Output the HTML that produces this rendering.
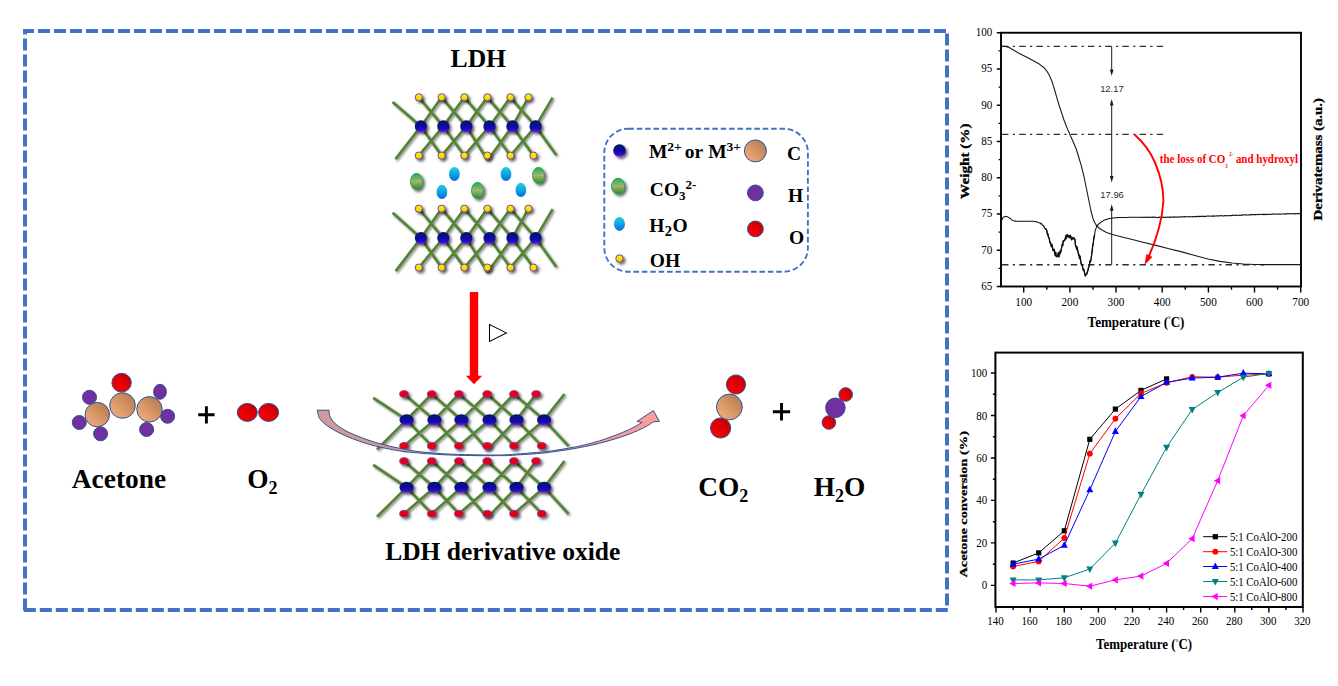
<!DOCTYPE html>
<html><head><meta charset="utf-8"><title>LDH graphical abstract</title>
<style>html,body{margin:0;padding:0;background:#fff;}body{width:1338px;height:686px;overflow:hidden;}svg{display:block;}text{font-family:"Liberation Serif",serif;}.b{font-weight:bold;}.sans{font-family:"Liberation Sans",sans-serif;}</style></head><body>
<svg width="1338" height="686" viewBox="0 0 1338 686">
<defs>
<filter id="sh" x="-20%" y="-20%" width="150%" height="150%"><feDropShadow dx="2.0" dy="2.0" stdDeviation="1.6" flood-color="#000" flood-opacity="0.62"/></filter>
<filter id="shl" x="-5%" y="-5%" width="112%" height="112%"><feDropShadow dx="1.3" dy="1.3" stdDeviation="1.1" flood-color="#000" flood-opacity="0.5"/></filter>
<linearGradient id="gBlue" x1="0" y1="0" x2="0" y2="1"><stop offset="0" stop-color="#031466"/><stop offset="0.55" stop-color="#0e0ea2"/><stop offset="0.8" stop-color="#2412c0"/><stop offset="0.92" stop-color="#6a18dc"/><stop offset="1" stop-color="#b020f0"/></linearGradient>
<linearGradient id="gYel" x1="0" y1="0" x2="0" y2="1"><stop offset="0" stop-color="#fff200"/><stop offset="1" stop-color="#e0d800"/></linearGradient>
<linearGradient id="gCy" x1="0" y1="0" x2="0" y2="1"><stop offset="0" stop-color="#22d0dc"/><stop offset="0.5" stop-color="#12a4e4"/><stop offset="1" stop-color="#0868d8"/></linearGradient>
<linearGradient id="gGr" x1="0" y1="0" x2="0" y2="1"><stop offset="0" stop-color="#1eae4e"/><stop offset="0.5" stop-color="#a8b272"/><stop offset="1" stop-color="#2a8a2a"/></linearGradient>
<linearGradient id="gTan" x1="1" y1="0" x2="0" y2="1"><stop offset="0" stop-color="#ab744c"/><stop offset="0.5" stop-color="#d69565"/><stop offset="1" stop-color="#f6b386"/></linearGradient>
<linearGradient id="gRed" x1="1" y1="0" x2="0" y2="1"><stop offset="0" stop-color="#b00000"/><stop offset="0.5" stop-color="#e40008"/><stop offset="1" stop-color="#ff0000"/></linearGradient>
<linearGradient id="gRedE" x1="0" y1="0" x2="0" y2="1"><stop offset="0" stop-color="#f00000"/><stop offset="1" stop-color="#d80010"/></linearGradient>
<linearGradient id="gPink" x1="0" y1="0" x2="1" y2="0"><stop offset="0" stop-color="#cf9a9a"/><stop offset="0.5" stop-color="#e89a9a"/><stop offset="1" stop-color="#ff9c9c"/></linearGradient>
</defs>
<rect x="0" y="0" width="1338" height="686" fill="#fff"/>
<g fill="none" stroke="#4472c4" stroke-width="4" stroke-dasharray="12 4">
<path d="M23 31H949" stroke-dashoffset="1"/>
<path d="M947 31V608" stroke-dashoffset="13.4"/>
<path d="M23 610H949" stroke-dashoffset="15.2"/>
<path d="M25 29V610.4" stroke-dashoffset="6.6"/>
</g>
<path d="M418.8 97.3L443.3 126.4M420.9 126.4L441.6 97.3M418.8 155.6L443.3 126.4M420.9 126.4L441.6 155.6M441.6 97.3L466.3 126.4M443.3 126.4L464.3 97.3M441.6 155.6L466.3 126.4M443.3 126.4L464.3 155.6M464.3 97.3L489.5 126.4M466.3 126.4L487.3 97.3M464.3 155.6L489.5 126.4M466.3 126.4L487.6 160.2M487.3 97.3L512.4 126.4M489.5 126.4L510.4 97.3M487.6 160.2L512.4 126.4M489.5 126.4L510.4 155.6M510.4 97.3L535.6 126.4M512.4 126.4L528.4 97.3M510.4 155.6L535.6 126.4M512.4 126.4L533.4 155.6M392.6 101.9L420.9 126.4M395.5 159.1L420.9 126.4M535.6 126.4L552.6 97.6M535.6 126.4L556.4 155.2" stroke="#548235" stroke-width="2.65" fill="none" filter="url(#shl)"/>
<g filter="url(#sh)">
<ellipse cx="418.8" cy="97.3" rx="3.60" ry="3.60" fill="url(#gYel)" stroke="#7030a0" stroke-width="0.9"/>
<ellipse cx="441.6" cy="97.3" rx="3.60" ry="3.60" fill="url(#gYel)" stroke="#7030a0" stroke-width="0.9"/>
<ellipse cx="464.3" cy="97.3" rx="3.60" ry="3.60" fill="url(#gYel)" stroke="#7030a0" stroke-width="0.9"/>
<ellipse cx="487.3" cy="97.3" rx="3.60" ry="3.60" fill="url(#gYel)" stroke="#7030a0" stroke-width="0.9"/>
<ellipse cx="510.4" cy="97.3" rx="3.60" ry="3.60" fill="url(#gYel)" stroke="#7030a0" stroke-width="0.9"/>
<ellipse cx="528.4" cy="97.3" rx="3.60" ry="3.60" fill="url(#gYel)" stroke="#7030a0" stroke-width="0.9"/>
<ellipse cx="418.8" cy="155.6" rx="3.60" ry="3.60" fill="url(#gYel)" stroke="#7030a0" stroke-width="0.9"/>
<ellipse cx="441.6" cy="155.6" rx="3.60" ry="3.60" fill="url(#gYel)" stroke="#7030a0" stroke-width="0.9"/>
<ellipse cx="464.3" cy="155.6" rx="3.60" ry="3.60" fill="url(#gYel)" stroke="#7030a0" stroke-width="0.9"/>
<ellipse cx="487.3" cy="155.6" rx="3.60" ry="3.60" fill="url(#gYel)" stroke="#7030a0" stroke-width="0.9"/>
<ellipse cx="510.4" cy="155.6" rx="3.60" ry="3.60" fill="url(#gYel)" stroke="#7030a0" stroke-width="0.9"/>
<ellipse cx="533.4" cy="155.6" rx="3.60" ry="3.60" fill="url(#gYel)" stroke="#7030a0" stroke-width="0.9"/>
<ellipse cx="420.9" cy="126.4" rx="6.10" ry="6.10" fill="url(#gBlue)"/>
<ellipse cx="443.3" cy="126.4" rx="6.10" ry="6.10" fill="url(#gBlue)"/>
<ellipse cx="466.3" cy="126.4" rx="6.10" ry="6.10" fill="url(#gBlue)"/>
<ellipse cx="489.5" cy="126.4" rx="6.10" ry="6.10" fill="url(#gBlue)"/>
<ellipse cx="512.4" cy="126.4" rx="6.10" ry="6.10" fill="url(#gBlue)"/>
<ellipse cx="535.6" cy="126.4" rx="6.10" ry="6.10" fill="url(#gBlue)"/>
</g>
<path d="M418.8 208.7L443.3 238.1M420.9 238.1L441.6 208.7M418.8 267.6L443.3 238.1M420.9 238.1L441.6 267.6M441.6 208.7L466.3 238.1M443.3 238.1L464.3 208.7M441.6 267.6L466.3 238.1M443.3 238.1L464.3 267.6M464.3 208.7L489.5 238.1M466.3 238.1L487.3 208.7M464.3 267.6L489.5 238.1M466.3 238.1L487.6 272.2M487.3 208.7L512.4 238.1M489.5 238.1L510.4 208.7M487.6 272.2L512.4 238.1M489.5 238.1L510.4 267.6M510.4 208.7L535.6 238.1M512.4 238.1L528.4 208.7M510.4 267.6L535.6 238.1M512.4 238.1L533.4 267.6M392.6 212.8L420.9 238.1M395.7 271.1L420.9 238.1M535.6 238.1L552.6 209.2M535.6 238.1L556.4 267.0" stroke="#548235" stroke-width="2.65" fill="none" filter="url(#shl)"/>
<g filter="url(#sh)">
<ellipse cx="418.8" cy="208.7" rx="3.60" ry="3.60" fill="url(#gYel)" stroke="#7030a0" stroke-width="0.9"/>
<ellipse cx="441.6" cy="208.7" rx="3.60" ry="3.60" fill="url(#gYel)" stroke="#7030a0" stroke-width="0.9"/>
<ellipse cx="464.3" cy="208.7" rx="3.60" ry="3.60" fill="url(#gYel)" stroke="#7030a0" stroke-width="0.9"/>
<ellipse cx="487.3" cy="208.7" rx="3.60" ry="3.60" fill="url(#gYel)" stroke="#7030a0" stroke-width="0.9"/>
<ellipse cx="510.4" cy="208.7" rx="3.60" ry="3.60" fill="url(#gYel)" stroke="#7030a0" stroke-width="0.9"/>
<ellipse cx="528.4" cy="208.7" rx="3.60" ry="3.60" fill="url(#gYel)" stroke="#7030a0" stroke-width="0.9"/>
<ellipse cx="418.8" cy="267.6" rx="3.60" ry="3.60" fill="url(#gYel)" stroke="#7030a0" stroke-width="0.9"/>
<ellipse cx="441.6" cy="267.6" rx="3.60" ry="3.60" fill="url(#gYel)" stroke="#7030a0" stroke-width="0.9"/>
<ellipse cx="464.3" cy="267.6" rx="3.60" ry="3.60" fill="url(#gYel)" stroke="#7030a0" stroke-width="0.9"/>
<ellipse cx="487.3" cy="267.6" rx="3.60" ry="3.60" fill="url(#gYel)" stroke="#7030a0" stroke-width="0.9"/>
<ellipse cx="510.4" cy="267.6" rx="3.60" ry="3.60" fill="url(#gYel)" stroke="#7030a0" stroke-width="0.9"/>
<ellipse cx="533.4" cy="267.6" rx="3.60" ry="3.60" fill="url(#gYel)" stroke="#7030a0" stroke-width="0.9"/>
<ellipse cx="420.9" cy="238.1" rx="6.10" ry="6.10" fill="url(#gBlue)"/>
<ellipse cx="443.3" cy="238.1" rx="6.10" ry="6.10" fill="url(#gBlue)"/>
<ellipse cx="466.3" cy="238.1" rx="6.10" ry="6.10" fill="url(#gBlue)"/>
<ellipse cx="489.5" cy="238.1" rx="6.10" ry="6.10" fill="url(#gBlue)"/>
<ellipse cx="512.4" cy="238.1" rx="6.10" ry="6.10" fill="url(#gBlue)"/>
<ellipse cx="535.6" cy="238.1" rx="6.10" ry="6.10" fill="url(#gBlue)"/>
</g>
<g filter="url(#sh)">
<ellipse cx="416.5" cy="181.5" rx="6.0" ry="8.1" fill="url(#gGr)" stroke="#12a84c" stroke-width="0.9"/>
<ellipse cx="477.5" cy="190.5" rx="6.0" ry="8.1" fill="url(#gGr)" stroke="#12a84c" stroke-width="0.9"/>
<ellipse cx="538.5" cy="175.5" rx="6.0" ry="8.1" fill="url(#gGr)" stroke="#12a84c" stroke-width="0.9"/>
</g>
<filter id="soft" x="-20%" y="-20%" width="140%" height="140%"><feGaussianBlur stdDeviation="0.35"/></filter>
<ellipse cx="454.4" cy="174.0" rx="5.4" ry="7.1" fill="url(#gCy)" filter="url(#soft)"/>
<ellipse cx="441.9" cy="191.9" rx="5.4" ry="7.1" fill="url(#gCy)" filter="url(#soft)"/>
<ellipse cx="506.0" cy="174.0" rx="5.4" ry="7.1" fill="url(#gCy)" filter="url(#soft)"/>
<ellipse cx="520.9" cy="189.9" rx="5.4" ry="7.1" fill="url(#gCy)" filter="url(#soft)"/>
<text class="b" x="478.3" y="67.1" font-size="25.6" text-anchor="middle">LDH</text>
<rect x="604.3" y="128.7" width="203.6" height="143" rx="24" ry="24" fill="none" stroke="#4472c4" stroke-width="1.9" stroke-dasharray="5.6 2.8"/>
<g filter="url(#sh)">
<circle cx="619.5" cy="150.6" r="6.3" fill="url(#gBlue)"/>
<ellipse cx="618.1" cy="186.2" rx="6.6" ry="7.9" fill="url(#gGr)" stroke="#12a84c" stroke-width="0.9"/>
<circle cx="619.5" cy="258.5" r="3.7" fill="url(#gYel)" stroke="#7030a0" stroke-width="0.9"/>
</g>
<ellipse cx="619.5" cy="223.9" rx="5.5" ry="7.0" fill="url(#gCy)" filter="url(#soft)"/>
<circle cx="755.4" cy="150.9" r="11.0" fill="url(#gTan)" stroke="#2f528f" stroke-width="1"/>
<circle cx="755.4" cy="192.9" r="7.9" fill="#7030a0" stroke="#2f528f" stroke-width="1"/>
<circle cx="755.4" cy="228.9" r="7.9" fill="url(#gRed)" stroke="#2f528f" stroke-width="1"/>
<text class="b" x="648.9" y="157.9" font-size="19.5">M<tspan font-size="13.5" dy="-6.5">2+</tspan><tspan dy="6.5" x="684.8">or</tspan><tspan x="708.2">M</tspan><tspan font-size="13.5" dy="-6.5">3+</tspan></text>
<text class="b" x="649.8" y="195.8" font-size="19.5">CO<tspan font-size="13" dy="4">3</tspan><tspan font-size="13" dy="-10.5">2-</tspan></text>
<text class="b" x="649.2" y="231.8" font-size="19.5">H<tspan font-size="14.5" dy="4" dx="0.4">2</tspan><tspan dy="-4" dx="0.6">O</tspan></text>
<text class="b" x="649.8" y="267.1" font-size="19.5">OH</text>
<text class="b" x="786.9" y="159.6" font-size="19.5">C</text>
<text class="b" x="788" y="201.7" font-size="19.5">H</text>
<text class="b" x="788.9" y="244" font-size="19.5">O</text>
<path d="M469.8 292H478.2V375.8H482.2L474 384.2L465.8 375.8H469.8Z" fill="#ff0000"/>
<path d="M489.5 324.6L489.5 341.5L506.4 332.9Z" fill="#fff" stroke="#000" stroke-width="1.05" stroke-linejoin="miter"/>
<path d="M404.0 394.0L434.4 419.9M406.6 419.9L431.8 394.0M404.0 445.9L434.4 419.9M406.6 419.9L431.8 445.9M431.8 394.0L461.4 419.9M434.4 419.9L458.9 394.0M431.8 445.9L461.4 419.9M434.4 419.9L458.9 445.9M458.9 394.0L489.5 419.9M461.4 419.9L487.2 394.0M458.9 445.9L489.5 419.9M461.4 419.9L487.5 449.9M487.2 394.0L516.5 419.9M489.5 419.9L514.0 394.0M487.5 449.9L516.5 419.9M489.5 419.9L514.0 445.9M514.0 394.0L544.1 419.9M516.5 419.9L536.1 394.0M514.0 445.9L544.1 419.9M516.5 419.9L541.8 445.9M373.2 397.8L406.6 419.9M377.0 449.5L406.6 419.9M544.1 419.9L564.5 394.0M544.1 419.9L568.6 446.2" stroke="#548235" stroke-width="2.65" fill="none" filter="url(#shl)"/>
<g filter="url(#sh)">
<ellipse cx="404.0" cy="394.0" rx="4.30" ry="3.30" fill="url(#gRedE)" stroke="#8a2fb0" stroke-width="0.9"/>
<ellipse cx="431.8" cy="394.0" rx="4.30" ry="3.30" fill="url(#gRedE)" stroke="#8a2fb0" stroke-width="0.9"/>
<ellipse cx="458.9" cy="394.0" rx="4.30" ry="3.30" fill="url(#gRedE)" stroke="#8a2fb0" stroke-width="0.9"/>
<ellipse cx="487.2" cy="394.0" rx="4.30" ry="3.30" fill="url(#gRedE)" stroke="#8a2fb0" stroke-width="0.9"/>
<ellipse cx="514.0" cy="394.0" rx="4.30" ry="3.30" fill="url(#gRedE)" stroke="#8a2fb0" stroke-width="0.9"/>
<ellipse cx="536.1" cy="394.0" rx="4.30" ry="3.30" fill="url(#gRedE)" stroke="#8a2fb0" stroke-width="0.9"/>
<ellipse cx="404.0" cy="445.9" rx="4.30" ry="3.30" fill="url(#gRedE)" stroke="#8a2fb0" stroke-width="0.9"/>
<ellipse cx="431.8" cy="445.9" rx="4.30" ry="3.30" fill="url(#gRedE)" stroke="#8a2fb0" stroke-width="0.9"/>
<ellipse cx="458.9" cy="445.9" rx="4.30" ry="3.30" fill="url(#gRedE)" stroke="#8a2fb0" stroke-width="0.9"/>
<ellipse cx="487.2" cy="445.9" rx="4.30" ry="3.30" fill="url(#gRedE)" stroke="#8a2fb0" stroke-width="0.9"/>
<ellipse cx="514.0" cy="445.9" rx="4.30" ry="3.30" fill="url(#gRedE)" stroke="#8a2fb0" stroke-width="0.9"/>
<ellipse cx="541.8" cy="445.9" rx="4.30" ry="3.30" fill="url(#gRedE)" stroke="#8a2fb0" stroke-width="0.9"/>
<ellipse cx="406.6" cy="419.9" rx="7.10" ry="5.60" fill="url(#gBlue)"/>
<ellipse cx="434.4" cy="419.9" rx="7.10" ry="5.60" fill="url(#gBlue)"/>
<ellipse cx="461.4" cy="419.9" rx="7.10" ry="5.60" fill="url(#gBlue)"/>
<ellipse cx="489.5" cy="419.9" rx="7.10" ry="5.60" fill="url(#gBlue)"/>
<ellipse cx="516.5" cy="419.9" rx="7.10" ry="5.60" fill="url(#gBlue)"/>
<ellipse cx="544.1" cy="419.9" rx="7.10" ry="5.60" fill="url(#gBlue)"/>
</g>
<path d="M404.0 461.0L434.4 487.4M406.6 487.4L431.8 461.0M404.0 513.7L434.4 487.4M406.6 487.4L431.8 513.7M431.8 461.0L461.4 487.4M434.4 487.4L458.9 461.0M431.8 513.7L461.4 487.4M434.4 487.4L458.9 513.7M458.9 461.0L489.5 487.4M461.4 487.4L487.2 461.0M458.9 513.7L489.5 487.4M461.4 487.4L487.5 517.7M487.2 461.0L516.5 487.4M489.5 487.4L514.0 461.0M487.5 517.7L516.5 487.4M489.5 487.4L514.0 513.7M514.0 461.0L544.1 487.4M516.5 487.4L536.1 461.0M514.0 513.7L544.1 487.4M516.5 487.4L541.8 513.7M373.2 464.8L406.6 487.4M377.0 516.8L406.6 487.4M544.1 487.4L564.5 461.0M544.1 487.4L568.6 514.0" stroke="#548235" stroke-width="2.65" fill="none" filter="url(#shl)"/>
<g filter="url(#sh)">
<ellipse cx="404.0" cy="461.0" rx="4.30" ry="3.30" fill="url(#gRedE)" stroke="#8a2fb0" stroke-width="0.9"/>
<ellipse cx="431.8" cy="461.0" rx="4.30" ry="3.30" fill="url(#gRedE)" stroke="#8a2fb0" stroke-width="0.9"/>
<ellipse cx="458.9" cy="461.0" rx="4.30" ry="3.30" fill="url(#gRedE)" stroke="#8a2fb0" stroke-width="0.9"/>
<ellipse cx="487.2" cy="461.0" rx="4.30" ry="3.30" fill="url(#gRedE)" stroke="#8a2fb0" stroke-width="0.9"/>
<ellipse cx="514.0" cy="461.0" rx="4.30" ry="3.30" fill="url(#gRedE)" stroke="#8a2fb0" stroke-width="0.9"/>
<ellipse cx="536.1" cy="461.0" rx="4.30" ry="3.30" fill="url(#gRedE)" stroke="#8a2fb0" stroke-width="0.9"/>
<ellipse cx="404.0" cy="513.7" rx="4.30" ry="3.30" fill="url(#gRedE)" stroke="#8a2fb0" stroke-width="0.9"/>
<ellipse cx="431.8" cy="513.7" rx="4.30" ry="3.30" fill="url(#gRedE)" stroke="#8a2fb0" stroke-width="0.9"/>
<ellipse cx="458.9" cy="513.7" rx="4.30" ry="3.30" fill="url(#gRedE)" stroke="#8a2fb0" stroke-width="0.9"/>
<ellipse cx="487.2" cy="513.7" rx="4.30" ry="3.30" fill="url(#gRedE)" stroke="#8a2fb0" stroke-width="0.9"/>
<ellipse cx="514.0" cy="513.7" rx="4.30" ry="3.30" fill="url(#gRedE)" stroke="#8a2fb0" stroke-width="0.9"/>
<ellipse cx="541.8" cy="513.7" rx="4.30" ry="3.30" fill="url(#gRedE)" stroke="#8a2fb0" stroke-width="0.9"/>
<ellipse cx="406.6" cy="487.4" rx="7.10" ry="5.60" fill="url(#gBlue)"/>
<ellipse cx="434.4" cy="487.4" rx="7.10" ry="5.60" fill="url(#gBlue)"/>
<ellipse cx="461.4" cy="487.4" rx="7.10" ry="5.60" fill="url(#gBlue)"/>
<ellipse cx="489.5" cy="487.4" rx="7.10" ry="5.60" fill="url(#gBlue)"/>
<ellipse cx="516.5" cy="487.4" rx="7.10" ry="5.60" fill="url(#gBlue)"/>
<ellipse cx="544.1" cy="487.4" rx="7.10" ry="5.60" fill="url(#gBlue)"/>
</g>
<path d="M317.2 410.2C317.4 410.9 317.8 413.1 318.2 414.5C318.6 415.9 318.4 416.8 319.6 418.4C320.8 420.0 322.4 422.1 325.4 424.4C328.4 426.6 332.9 429.5 337.4 431.9C341.9 434.3 347.3 436.6 352.3 438.6C357.3 440.6 362.3 442.3 367.3 443.8C372.3 445.3 377.2 446.4 382.2 447.5C387.2 448.6 391.0 449.6 397.2 450.5C403.4 451.4 410.9 452.4 419.6 453.1C428.3 453.9 439.4 454.6 449.5 455.0C459.6 455.4 471.6 455.6 480.0 455.7C488.4 455.8 496.7 455.6 500.0 455.6C501.6 455.6 503.3 455.8 509.9 455.4C516.5 455.0 532.3 454.0 539.8 453.4C547.3 452.8 549.7 452.3 554.7 451.6C559.7 450.9 564.7 450.2 569.7 449.4C574.7 448.6 579.6 447.6 584.6 446.6C589.6 445.6 594.6 444.6 599.6 443.3C604.6 442.0 609.5 440.6 614.5 439.0C619.5 437.4 624.5 435.9 629.5 434.0C634.5 432.1 640.4 429.4 644.4 427.4C648.4 425.4 651.9 422.7 653.4 421.8L659.4 421.4L653.4 410.6L637 421.4L642.2 422.4C640.1 423.6 634.1 427.2 629.5 429.4C624.9 431.6 619.5 433.7 614.5 435.6C609.5 437.5 604.6 439.3 599.6 440.9C594.6 442.4 589.6 443.7 584.6 444.9C579.6 446.1 574.7 447.1 569.7 448.0C564.7 448.9 559.7 449.7 554.7 450.4C549.7 451.1 547.3 451.5 539.8 452.2C532.3 452.9 516.5 454.1 509.9 454.6C503.3 455.1 501.6 454.9 500.0 455.0C496.7 455.0 488.4 455.0 480.0 454.9C471.6 454.8 459.6 454.6 449.5 454.1C439.4 453.6 427.1 452.5 419.6 451.7C412.1 450.9 409.6 450.1 404.6 449.2C399.6 448.3 394.7 447.4 389.7 446.2C384.7 445.0 379.7 443.7 374.7 442.2C369.7 440.7 364.8 439.0 359.8 437.0C354.8 435.0 349.0 432.7 344.8 430.3C340.6 427.9 336.9 425.2 334.4 422.8C331.9 420.4 330.8 417.9 329.9 415.8C329.0 413.7 329.2 411.1 329.1 410.2Z" fill="url(#gPink)" stroke="#2f528f" stroke-width="1" stroke-linejoin="miter"/>
<circle cx="89.5" cy="397.3" r="7.0" fill="#7030a0" stroke="#2f528f" stroke-width="1"/>
<circle cx="79.3" cy="422.5" r="7.0" fill="#7030a0" stroke="#2f528f" stroke-width="1"/>
<circle cx="100.6" cy="433.8" r="7.0" fill="#7030a0" stroke="#2f528f" stroke-width="1"/>
<circle cx="167.6" cy="416.3" r="7.0" fill="#7030a0" stroke="#2f528f" stroke-width="1"/>
<circle cx="146.6" cy="429.5" r="7.0" fill="#7030a0" stroke="#2f528f" stroke-width="1"/>
<ellipse cx="160" cy="391.8" rx="6.4" ry="7.5" fill="#7030a0" stroke="#2f528f" stroke-width="1"/>
<ellipse cx="121.6" cy="382.7" rx="9.7" ry="9.4" fill="url(#gRed)" stroke="#2f528f" stroke-width="1"/>
<circle cx="97.3" cy="414.6" r="12.2" fill="url(#gTan)" stroke="#2f528f" stroke-width="1"/>
<circle cx="149.5" cy="409.3" r="12.7" fill="url(#gTan)" stroke="#2f528f" stroke-width="1"/>
<circle cx="122.5" cy="405.5" r="12.8" fill="url(#gTan)" stroke="#2f528f" stroke-width="1"/>
<path d="M198.2 414.7H214.6M206.4 406.2V423.6" stroke="#000" stroke-width="2.9" fill="none"/>
<ellipse cx="247.3" cy="412.4" rx="10.0" ry="9.0" fill="url(#gRed)" stroke="#2f528f" stroke-width="1"/>
<ellipse cx="268.6" cy="412.4" rx="10.0" ry="9.0" fill="url(#gRed)" stroke="#2f528f" stroke-width="1"/>
<text class="b" x="71.8" y="487.6" font-size="27.4">Acetone</text>
<text class="b" x="247.3" y="487.6" font-size="27.4">O<tspan font-size="18" dy="6">2</tspan></text>
<text class="b" x="385.2" y="559.8" font-size="25.5">LDH derivative oxide</text>
<circle cx="736" cy="384.5" r="9.6" fill="url(#gRed)" stroke="#2f528f" stroke-width="1"/>
<circle cx="720.6" cy="428.0" r="10.1" fill="url(#gRed)" stroke="#2f528f" stroke-width="1"/>
<circle cx="729.4" cy="407.0" r="12.9" fill="url(#gTan)" stroke="#2f528f" stroke-width="1"/>
<path d="M772.8 411.8H790.2M781.5 403.0V420.6" stroke="#000" stroke-width="2.9" fill="none"/>
<circle cx="845.7" cy="394.5" r="6.8" fill="url(#gRed)" stroke="#2f528f" stroke-width="1"/>
<circle cx="828.9" cy="422.5" r="6.8" fill="url(#gRed)" stroke="#2f528f" stroke-width="1"/>
<circle cx="835.4" cy="407.8" r="9.8" fill="#7030a0" stroke="#2f528f" stroke-width="1"/>
<text class="b" x="698.2" y="495.8" font-size="27.4">CO<tspan font-size="18" dy="6">2</tspan></text>
<text class="b" x="813.7" y="495.8" font-size="27.4">H<tspan font-size="18" dy="6">2</tspan><tspan dy="-6">O</tspan></text><g id="chart1">
<rect x="1001.0" y="32.75" width="300.0" height="253.75" fill="none" stroke="#000" stroke-width="1.9"/>
<path d="M1023.7 286.5v6M1069.9 286.5v6M1116.0 286.5v6M1162.2 286.5v6M1208.4 286.5v6M1254.5 286.5v6M1300.7 286.5v6M1046.8 286.5v3.2M1093.0 286.5v3.2M1139.1 286.5v3.2M1185.3 286.5v3.2M1231.5 286.5v3.2M1277.6 286.5v3.2M1001.0 286.5h-4.2M1001.0 250.2h-4.2M1001.0 214.0h-4.2M1001.0 177.8h-4.2M1001.0 141.5h-4.2M1001.0 105.2h-4.2M1001.0 69.0h-4.2M1001.0 32.8h-4.2M1001.0 268.4h-2.4M1001.0 232.1h-2.4M1001.0 195.9h-2.4M1001.0 159.6h-2.4M1001.0 123.4h-2.4M1001.0 87.1h-2.4M1001.0 50.9h-2.4" stroke="#000" stroke-width="1.4" fill="none"/>
<text x="1015.3" y="306.0" font-size="13" textLength="16.8" lengthAdjust="spacingAndGlyphs">100</text>
<text x="1061.5" y="306.0" font-size="13" textLength="16.8" lengthAdjust="spacingAndGlyphs">200</text>
<text x="1107.6" y="306.0" font-size="13" textLength="16.8" lengthAdjust="spacingAndGlyphs">300</text>
<text x="1153.8" y="306.0" font-size="13" textLength="16.8" lengthAdjust="spacingAndGlyphs">400</text>
<text x="1200.0" y="306.0" font-size="13" textLength="16.8" lengthAdjust="spacingAndGlyphs">500</text>
<text x="1246.1" y="306.0" font-size="13" textLength="16.8" lengthAdjust="spacingAndGlyphs">600</text>
<text x="1292.3" y="306.0" font-size="13" textLength="16.8" lengthAdjust="spacingAndGlyphs">700</text>
<text x="981.3" y="289.8" font-size="13" textLength="11.1" lengthAdjust="spacingAndGlyphs">65</text>
<text x="981.3" y="253.6" font-size="13" textLength="11.1" lengthAdjust="spacingAndGlyphs">70</text>
<text x="981.3" y="217.3" font-size="13" textLength="11.1" lengthAdjust="spacingAndGlyphs">75</text>
<text x="981.3" y="181.1" font-size="13" textLength="11.1" lengthAdjust="spacingAndGlyphs">80</text>
<text x="981.3" y="144.8" font-size="13" textLength="11.1" lengthAdjust="spacingAndGlyphs">85</text>
<text x="981.3" y="108.5" font-size="13" textLength="11.1" lengthAdjust="spacingAndGlyphs">90</text>
<text x="981.3" y="72.3" font-size="13" textLength="11.1" lengthAdjust="spacingAndGlyphs">95</text>
<text x="975.8" y="36.0" font-size="13" textLength="16.6" lengthAdjust="spacingAndGlyphs">100</text>
<text class="b" transform="translate(969.0,161.2) rotate(-90)" x="-37.7" y="0" font-size="12" stroke="#000" stroke-width="0.3" textLength="75.4" lengthAdjust="spacingAndGlyphs">Weight (%)</text>
<text class="b" transform="translate(1321.7,159.3) rotate(-90)" x="-61.1" y="0" font-size="11.6" stroke="#000" stroke-width="0.25" textLength="122.3" lengthAdjust="spacingAndGlyphs">Derivatemass (a.u.)</text>
<text class="b" x="1087.6" y="327" font-size="14.8" textLength="96.9" lengthAdjust="spacingAndGlyphs">Temperature (<tspan font-size="7.5" dy="-5">°</tspan><tspan dy="5">C)</tspan></text>
<path d="M1002.0 46.4H1164.5" stroke="#2e2e2e" stroke-width="1.35" stroke-dasharray="6.4 4.4 2.2 4.2" fill="none"/>
<path d="M1002.0 134.4H1164.5" stroke="#2e2e2e" stroke-width="1.35" stroke-dasharray="6.4 4.4 2.2 4.2" fill="none"/>
<path d="M1002.0 264.7H1264" stroke="#2e2e2e" stroke-width="1.35" stroke-dasharray="6.4 4.4 2.2 4.2" fill="none"/>
<path d="M1262 264.6H1300.5" stroke="#1a1a1a" stroke-width="1.25" fill="none"/>
<polyline points="1001.6,46.2 1004.0,46.3 1008.3,47.1 1013.0,49.8 1019.4,53.5 1029.3,58.6 1039.3,64.1 1043.5,67.2 1046.7,70.8 1049.3,75.2 1051.7,80.7 1054.2,88.5 1056.6,96.8 1059.0,105.0 1061.6,112.9 1064.0,120.0 1066.5,126.6 1070.2,135.2 1073.4,142.2 1076.4,149.5 1079.0,158.0 1081.4,166.2 1084.0,176.5 1086.4,188.5 1089.2,202.0 1091.0,211.0 1092.9,218.2 1094.6,222.5 1096.6,225.6 1099.0,228.0 1101.6,229.8 1106.0,232.2 1111.5,234.3 1121.0,236.8 1131.3,239.3 1143.0,242.2 1156.1,245.4 1168.0,248.5 1180.9,251.6 1196.7,256.0 1208.0,259.0 1220.0,261.4 1232.0,263.0 1243.3,264.0 1255.0,264.5 1265.0,264.5" fill="none" stroke="#1a1a1a" stroke-width="1.1" stroke-linejoin="round"/>
<polyline points="1001.6,220.6 1002.1,219.6 1002.5,218.6 1003.0,217.6 1003.5,217.3 1004.0,217.1 1004.4,216.8 1004.9,216.6 1005.4,216.3 1005.9,216.4 1006.5,216.6 1007.0,216.7 1007.5,216.8 1008.0,217.1 1008.5,217.4 1008.9,217.6 1009.4,217.9 1009.9,218.2 1010.4,218.6 1011.0,219.1 1011.5,219.6 1012.0,220.0 1012.5,220.2 1012.9,220.4 1013.4,220.6 1013.9,220.7 1014.3,220.9 1014.8,221.1 1015.2,221.1 1015.7,221.1 1016.1,221.1 1016.6,221.2 1017.0,221.2 1017.5,221.2 1017.9,221.2 1018.4,221.2 1018.9,221.2 1019.3,221.2 1019.8,221.2 1020.2,221.2 1020.6,221.3 1021.1,221.3 1021.5,221.3 1022.0,221.3 1022.5,221.3 1022.9,221.3 1023.4,221.3 1023.9,221.3 1024.3,221.3 1024.8,221.3 1025.2,221.3 1025.7,221.3 1026.2,221.3 1026.6,221.3 1027.1,221.2 1027.6,221.2 1028.0,221.2 1028.5,221.2 1029.0,221.2 1029.4,221.2 1029.9,221.2 1030.3,221.2 1030.8,221.2 1031.3,221.2 1031.7,221.2 1032.2,221.2 1032.7,221.3 1033.2,221.3 1033.6,221.4 1034.1,221.5 1034.6,221.5 1035.1,221.6 1035.5,221.7 1036.0,221.7 1036.5,221.8 1037.0,222.0 1037.5,222.2 1037.9,222.3 1038.4,222.5 1038.9,222.7 1039.4,222.9 1039.8,223.0 1040.3,222.9 1040.8,223.9 1041.2,223.4 1041.7,224.1 1042.2,225.2 1042.6,225.3 1043.0,225.0 1043.5,226.7 1044.0,226.3 1044.4,227.1 1044.9,228.5 1045.3,228.6 1045.8,229.3 1046.3,228.9 1046.8,230.4 1047.3,234.1 1047.8,233.9 1048.3,237.0 1048.8,237.3 1049.3,239.1 1049.8,243.0 1050.3,242.1 1050.8,244.0 1051.3,246.5 1051.8,244.4 1052.3,245.4 1052.8,250.2 1053.3,251.0 1053.8,249.4 1054.3,249.9 1054.7,253.2 1055.2,255.0 1055.7,252.1 1056.1,256.5 1056.6,256.9 1057.0,256.3 1057.5,256.2 1058.0,254.0 1058.4,252.9 1058.9,256.7 1059.3,252.5 1059.8,254.0 1060.3,250.4 1060.8,251.8 1061.3,249.3 1061.8,246.4 1062.3,244.4 1062.8,245.6 1063.2,240.9 1063.7,240.2 1064.2,240.3 1064.7,240.7 1065.3,238.5 1065.8,235.8 1066.2,239.0 1066.7,235.6 1067.2,234.8 1067.6,236.0 1068.0,237.0 1068.5,235.2 1069.0,235.8 1069.4,236.8 1069.9,237.7 1070.4,235.6 1070.9,236.7 1071.5,239.2 1072.0,239.6 1072.5,238.1 1073.0,238.2 1073.5,238.8 1074.0,237.8 1074.5,238.4 1075.0,239.5 1075.5,245.6 1076.1,246.5 1076.7,249.6 1077.2,246.9 1077.7,251.3 1078.1,252.0 1078.6,254.7 1079.0,254.2 1079.5,258.9 1080.0,256.0 1080.5,259.7 1080.9,262.1 1081.4,264.4 1081.9,265.1 1082.4,266.5 1082.9,268.4 1083.4,270.5 1083.9,269.3 1084.4,272.0 1084.8,274.2 1085.3,275.2 1085.8,274.2 1086.3,274.7 1086.9,273.8 1087.5,271.1 1088.0,270.1 1088.5,267.2 1089.0,266.5 1089.4,264.9 1089.9,260.7 1090.4,261.7 1091.0,259.4 1091.6,254.8 1092.2,250.1 1092.7,245.4 1093.2,244.0 1093.6,240.2 1094.1,236.6 1094.7,234.1 1095.3,229.9 1095.9,229.0 1096.6,226.1 1097.1,226.3 1097.6,225.5 1098.0,224.5 1098.5,224.5 1099.0,223.6 1099.5,223.4 1100.0,222.8 1100.6,222.5 1101.1,222.1 1101.6,221.7 1102.1,221.4 1102.6,221.2 1103.1,220.9 1103.5,220.6 1104.0,220.3 1104.5,220.1 1105.0,219.8 1105.5,219.7 1106.0,219.5 1106.5,219.4 1107.0,219.2 1107.5,219.1 1108.0,219.0 1108.5,218.8 1109.0,218.7 1109.5,218.6 1109.9,218.5 1110.3,218.5 1110.8,218.4 1111.2,218.3 1111.7,218.2 1112.2,218.1 1112.6,218.1 1113.0,218.0 1113.5,217.9 1114.0,217.9 1114.4,217.8 1114.8,217.8 1115.3,217.8 1115.8,217.7 1116.2,217.7 1116.7,217.7 1117.1,217.6 1117.6,217.6 1118.0,217.6 1118.5,217.5 1118.9,217.5 1119.4,217.5 1119.8,217.5 1120.3,217.5 1120.8,217.5 1121.2,217.5 1121.7,217.4 1122.1,217.4 1122.6,217.4 1123.1,217.4 1123.5,217.4 1124.0,217.4 1124.5,217.4 1124.9,217.4 1125.4,217.4 1125.8,217.4 1126.3,217.4 1126.8,217.4 1127.2,217.4 1127.7,217.3 1128.2,217.3 1128.6,217.3 1129.1,217.3 1129.5,217.3 1130.0,217.3 1130.5,217.3 1130.9,217.3 1131.4,217.3 1131.8,217.3 1132.3,217.3 1132.7,217.3 1133.2,217.3 1133.7,217.3 1134.1,217.3 1134.6,217.3 1135.0,217.3 1135.5,217.3 1135.9,217.3 1136.4,217.3 1136.8,217.2 1137.3,217.2 1137.8,217.2 1138.2,217.2 1138.7,217.2 1139.1,217.2 1139.6,217.2 1140.0,217.3 1140.5,217.5 1141.0,217.4 1141.4,217.5 1141.9,217.2 1142.3,217.3 1142.8,217.0 1143.2,217.3 1143.7,217.4 1144.2,217.3 1144.6,217.3 1145.1,217.0 1145.5,217.5 1146.0,217.5 1146.4,217.5 1146.9,217.2 1147.3,217.4 1147.8,217.1 1148.2,217.5 1148.7,217.4 1149.1,217.1 1149.6,217.0 1150.0,217.2 1150.5,217.3 1150.9,217.4 1151.4,217.2 1151.8,217.0 1152.3,217.4 1152.8,217.0 1153.2,217.4 1153.7,217.1 1154.1,217.2 1154.6,217.4 1155.0,217.1 1155.5,217.1 1155.9,217.3 1156.4,217.4 1156.8,217.5 1157.3,217.4 1157.7,217.6 1158.2,217.3 1158.6,217.6 1159.1,217.0 1159.5,217.1 1160.0,217.3 1160.5,217.2 1160.9,217.4 1161.4,217.4 1161.8,217.3 1162.3,217.5 1162.7,217.3 1163.2,217.1 1163.6,217.2 1164.1,217.4 1164.5,217.5 1165.0,217.0 1165.5,217.4 1165.9,217.5 1166.4,217.2 1166.8,217.2 1167.3,217.0 1167.7,217.2 1168.2,217.2 1168.6,217.2 1169.1,216.9 1169.5,217.4 1170.0,217.2 1170.5,217.1 1170.9,217.3 1171.4,217.2 1171.8,217.1 1172.3,217.2 1172.7,216.8 1173.2,217.1 1173.6,217.0 1174.1,217.4 1174.5,217.3 1175.0,216.9 1175.5,217.1 1175.9,216.8 1176.4,217.0 1176.8,217.2 1177.3,217.3 1177.7,217.0 1178.2,216.9 1178.6,216.8 1179.1,217.1 1179.5,217.3 1180.0,216.8 1180.5,217.2 1180.9,216.7 1181.4,216.8 1181.8,216.8 1182.3,217.0 1182.7,216.8 1183.2,216.8 1183.7,217.0 1184.1,216.6 1184.6,217.0 1185.0,216.6 1185.5,216.9 1185.9,216.7 1186.4,216.6 1186.8,216.8 1187.3,216.8 1187.8,216.7 1188.2,216.7 1188.7,216.8 1189.1,216.5 1189.6,216.6 1190.0,216.8 1190.5,216.8 1191.0,216.7 1191.4,216.9 1191.9,216.7 1192.3,216.9 1192.8,216.5 1193.2,216.8 1193.7,216.8 1194.2,216.8 1194.6,216.5 1195.1,216.5 1195.5,216.8 1196.0,216.4 1196.4,216.8 1196.9,216.8 1197.3,216.3 1197.8,216.3 1198.3,216.6 1198.7,216.3 1199.2,216.2 1199.6,216.6 1200.1,216.4 1200.5,216.6 1201.0,216.2 1201.5,216.3 1201.9,216.5 1202.4,216.1 1202.8,216.2 1203.3,216.5 1203.7,216.6 1204.2,216.6 1204.6,216.1 1205.1,216.3 1205.6,216.4 1206.0,216.3 1206.5,216.4 1206.9,216.1 1207.4,216.0 1207.8,216.0 1208.3,215.9 1208.8,216.2 1209.2,216.2 1209.7,216.2 1210.1,215.9 1210.6,215.9 1211.0,215.9 1211.5,216.3 1211.9,216.4 1212.4,216.3 1212.8,215.8 1213.3,215.8 1213.7,216.3 1214.2,216.0 1214.6,216.2 1215.1,215.9 1215.5,215.9 1216.0,216.0 1216.4,215.9 1216.9,216.0 1217.3,215.6 1217.8,216.0 1218.2,216.1 1218.7,215.7 1219.2,215.8 1219.6,216.0 1220.1,215.8 1220.5,215.6 1221.0,215.6 1221.4,215.8 1221.9,215.5 1222.3,216.0 1222.8,215.9 1223.2,215.8 1223.7,215.9 1224.1,215.8 1224.6,215.6 1225.0,215.7 1225.5,215.6 1225.9,215.9 1226.4,215.8 1226.8,215.5 1227.3,215.8 1227.7,215.7 1228.2,215.7 1228.6,215.7 1229.1,215.5 1229.5,215.8 1230.0,215.7 1230.5,215.6 1230.9,215.6 1231.4,215.6 1231.8,215.4 1232.3,215.6 1232.7,215.1 1233.2,215.3 1233.6,215.4 1234.1,215.1 1234.5,215.2 1235.0,215.4 1235.5,215.4 1235.9,215.1 1236.4,215.5 1236.8,215.4 1237.3,215.1 1237.7,215.3 1238.2,215.2 1238.6,215.2 1239.1,215.1 1239.5,215.5 1240.0,215.2 1240.5,215.2 1240.9,215.3 1241.4,215.4 1241.8,214.8 1242.3,215.1 1242.7,215.2 1243.2,214.9 1243.6,215.0 1244.1,214.7 1244.5,214.8 1245.0,214.9 1245.5,214.7 1245.9,214.8 1246.4,215.2 1246.8,214.9 1247.3,214.9 1247.7,215.1 1248.2,214.9 1248.6,215.1 1249.1,214.9 1249.5,215.0 1250.0,214.5 1250.5,214.8 1250.9,214.9 1251.4,214.5 1251.8,215.0 1252.3,214.5 1252.7,214.7 1253.2,214.5 1253.6,214.6 1254.1,214.7 1254.5,214.4 1255.0,214.9 1255.5,214.5 1255.9,214.6 1256.4,214.6 1256.8,214.5 1257.3,214.4 1257.7,214.6 1258.2,214.6 1258.6,214.4 1259.1,214.6 1259.5,214.4 1260.0,214.2 1260.5,214.3 1260.9,214.2 1261.4,214.2 1261.8,214.6 1262.3,214.4 1262.7,214.7 1263.2,214.6 1263.6,214.1 1264.1,214.7 1264.5,214.6 1265.0,214.1 1265.5,214.6 1265.9,214.3 1266.4,214.3 1266.8,214.6 1267.3,214.2 1267.7,214.3 1268.2,214.5 1268.6,214.4 1269.1,214.2 1269.5,214.5 1270.0,214.4 1270.5,214.3 1270.9,214.0 1271.4,214.3 1271.8,214.2 1272.3,214.0 1272.7,213.9 1273.2,214.2 1273.6,213.9 1274.1,214.1 1274.5,214.2 1275.0,214.1 1275.5,214.0 1275.9,214.1 1276.4,214.0 1276.8,214.2 1277.3,214.1 1277.7,214.4 1278.2,214.3 1278.6,214.2 1279.1,213.9 1279.5,213.8 1280.0,214.2 1280.5,214.2 1280.9,214.1 1281.4,213.9 1281.8,213.8 1282.3,214.1 1282.7,214.0 1283.2,214.0 1283.6,214.0 1284.1,214.1 1284.5,213.7 1285.0,213.8 1285.4,214.2 1285.9,214.1 1286.3,214.1 1286.8,213.6 1287.2,213.6 1287.7,213.7 1288.1,213.8 1288.6,213.9 1289.0,213.6 1289.5,213.8 1289.9,213.5 1290.4,213.5 1290.8,213.9 1291.3,213.8 1291.7,213.8 1292.2,213.7 1292.6,213.7 1293.1,213.6 1293.5,213.6 1294.0,213.9 1294.4,213.9 1294.9,213.5 1295.3,213.5 1295.8,213.9 1296.2,213.8 1296.7,213.8 1297.1,213.5 1297.6,213.6 1298.0,213.5 1298.5,213.8 1298.9,213.5 1299.4,213.7 1299.8,213.9 1300.3,213.6" fill="none" stroke="#111" stroke-width="1.05" stroke-linejoin="round"/>
<polyline points="1045.3,228.4 1045.8,229.4 1046.3,229.3 1046.8,231.1 1047.3,234.0 1047.8,233.7 1048.3,236.3 1048.8,237.9 1049.3,238.4 1049.8,242.3 1050.3,242.2 1050.8,243.9 1051.3,246.8 1051.8,244.1 1052.3,245.9 1052.8,249.5 1053.3,250.5 1053.8,249.7 1054.3,249.2 1054.7,252.9 1055.2,255.3 1055.7,252.5 1056.1,256.2 1056.6,256.4 1057.0,256.1 1057.5,256.6 1058.0,253.8 1058.4,252.3 1058.9,257.0 1059.3,252.6 1059.8,254.7 1060.3,251.1 1060.8,252.4 1061.3,249.2 1061.8,246.9 1062.3,244.1 1062.8,245.3 1063.2,240.8 1063.7,240.9 1064.2,240.9 1064.7,240.3 1065.3,238.3 1065.8,235.6 1066.2,238.7 1066.7,235.4 1067.2,234.6 1067.6,235.6 1068.0,237.1 1068.5,235.6 1069.0,235.8 1069.4,237.3 1069.9,237.8 1070.4,235.1 1070.9,237.1 1071.5,239.8 1072.0,239.3 1072.5,237.3 1073.0,238.2 1073.5,238.9 1074.0,237.9 1074.5,239.2 1075.0,239.7 1075.5,246.1 1076.1,245.8 1076.7,249.6 1077.2,247.4 1077.7,250.6 1078.1,251.4 1078.6,255.1 1079.0,254.8 1079.5,258.2 1080.0,256.2 1080.5,259.2 1080.9,262.5 1081.4,264.7 1081.9,264.7 1082.4,266.0 1082.9,268.8 1083.4,270.5 1083.9,269.7 1084.4,271.9 1084.8,274.0 1085.3,276.0 1085.8,274.5 1086.3,274.7 1086.9,273.9 1087.5,271.5 1088.0,270.4 1088.5,267.9 1089.0,266.4 1089.4,265.4 1089.9,261.0 1090.4,262.2 1091.0,259.9 1091.6,255.4 1092.2,250.7 1092.7,246.1 1093.2,244.2 1093.6,240.2 1094.1,237.0 1094.7,234.6" fill="none" stroke="#111" stroke-width="1.3" stroke-linejoin="round"/>
<path d="M1111.7 46.5V72M1111.7 102V179M1111.7 207V264.5" stroke="#1a1a1a" stroke-width="1" fill="none"/>
<path d="M1111.7 76L1109.9 69.5L1113.5 69.5Z" fill="#1a1a1a"/>
<path d="M1111.7 99L1109.9 105.5L1113.5 105.5Z" fill="#1a1a1a"/>
<path d="M1111.7 182.4L1109.9 175.9L1113.5 175.9Z" fill="#1a1a1a"/>
<path d="M1111.7 204.2L1109.9 210.7L1113.5 210.7Z" fill="#1a1a1a"/>
<text class="sans" x="1111.9" y="92.4" font-size="9.4" text-anchor="middle" fill="#2a2a2a">12.17</text>
<text class="sans" x="1112.1000000000001" y="197.6" font-size="9.4" text-anchor="middle" fill="#2a2a2a">17.96</text>
<path d="M1134.7 134.7C1142 141 1150 151 1155 162.5C1161 177 1164.0 190 1163.2 203C1162.2 220 1156 240 1148.6 257" fill="none" stroke="#ff0000" stroke-width="1.9"/>
<path d="M1145.0 264.2L1146.6 254.4L1152.0 257.0Z" fill="#ff0000" stroke="#ff0000" stroke-width="0.6"/>
<text class="b" x="1159.8" y="163.3" font-size="12.6" fill="#ff0000" textLength="138.3" lengthAdjust="spacingAndGlyphs">the loss of CO<tspan font-size="5.5" dy="4.4">3</tspan><tspan font-size="5.5" dy="-11.4" dx="1.8">2-</tspan><tspan dy="7"> and hydroxyl</tspan></text>
</g>
<g id="chart2">
<rect x="995.4" y="352.6" width="307.4" height="254.4" fill="none" stroke="#000" stroke-width="2"/>
<path d="M996.0 607.0v5.5M1030.2 607.0v5.5M1064.3 607.0v5.5M1098.4 607.0v5.5M1132.5 607.0v5.5M1166.6 607.0v5.5M1200.7 607.0v5.5M1234.8 607.0v5.5M1268.9 607.0v5.5M1303.0 607.0v5.5M1013.1 607.0v3M1047.2 607.0v3M1081.3 607.0v3M1115.4 607.0v3M1149.5 607.0v3M1183.6 607.0v3M1217.7 607.0v3M1251.8 607.0v3M1285.9 607.0v3M995.4 585.4h-4.5M995.4 542.9h-4.5M995.4 500.4h-4.5M995.4 458.0h-4.5M995.4 415.5h-4.5M995.4 373.0h-4.5M995.4 564.2h-2.5M995.4 521.7h-2.5M995.4 479.2h-2.5M995.4 436.7h-2.5M995.4 394.2h-2.5" stroke="#000" stroke-width="1.4" fill="none"/>
<text x="987.3" y="625.0" font-size="12.2" textLength="16.4" lengthAdjust="spacingAndGlyphs">140</text>
<text x="1021.4" y="625.0" font-size="12.2" textLength="16.4" lengthAdjust="spacingAndGlyphs">160</text>
<text x="1055.5" y="625.0" font-size="12.2" textLength="16.4" lengthAdjust="spacingAndGlyphs">180</text>
<text x="1089.6" y="625.0" font-size="12.2" textLength="16.4" lengthAdjust="spacingAndGlyphs">200</text>
<text x="1123.7" y="625.0" font-size="12.2" textLength="16.4" lengthAdjust="spacingAndGlyphs">220</text>
<text x="1157.8" y="625.0" font-size="12.2" textLength="16.4" lengthAdjust="spacingAndGlyphs">240</text>
<text x="1191.9" y="625.0" font-size="12.2" textLength="16.4" lengthAdjust="spacingAndGlyphs">260</text>
<text x="1226.0" y="625.0" font-size="12.2" textLength="16.4" lengthAdjust="spacingAndGlyphs">280</text>
<text x="1260.1" y="625.0" font-size="12.2" textLength="16.4" lengthAdjust="spacingAndGlyphs">300</text>
<text x="1294.2" y="625.0" font-size="12.2" textLength="16.4" lengthAdjust="spacingAndGlyphs">320</text>
<text x="981.8" y="589.4" font-size="12.2" textLength="5.5" lengthAdjust="spacingAndGlyphs">0</text>
<text x="976.3" y="546.9" font-size="12.2" textLength="10.9" lengthAdjust="spacingAndGlyphs">20</text>
<text x="976.3" y="504.4" font-size="12.2" textLength="10.9" lengthAdjust="spacingAndGlyphs">40</text>
<text x="976.3" y="462.0" font-size="12.2" textLength="10.9" lengthAdjust="spacingAndGlyphs">60</text>
<text x="976.3" y="419.5" font-size="12.2" textLength="10.9" lengthAdjust="spacingAndGlyphs">80</text>
<text x="970.9" y="377.0" font-size="12.2" textLength="16.4" lengthAdjust="spacingAndGlyphs">100</text>
<text class="b" transform="translate(966.6,504.4) rotate(-90)" x="-73.2" y="0" font-size="11.3" stroke="#000" stroke-width="0.25" textLength="146.5" lengthAdjust="spacingAndGlyphs">Acetone conversion (%)</text>
<text class="b" x="1096.1" y="649.2" font-size="13.6" textLength="96" lengthAdjust="spacingAndGlyphs">Temperature (<tspan font-size="7.5" dy="-4.6">°</tspan><tspan dy="4.6">C)</tspan></text>
<polyline points="1013.1,563.1 1038.7,552.9 1064.3,530.8 1089.8,439.3 1115.4,409.1 1141.0,390.4 1166.6,378.9" fill="none" stroke="#000" stroke-width="1.0"/>
<rect x="1010.5" y="560.5" width="5.2" height="5.2" fill="#000"/><rect x="1036.1" y="550.3" width="5.2" height="5.2" fill="#000"/><rect x="1061.7" y="528.2" width="5.2" height="5.2" fill="#000"/><rect x="1087.2" y="436.7" width="5.2" height="5.2" fill="#000"/><rect x="1112.8" y="406.5" width="5.2" height="5.2" fill="#000"/><rect x="1138.4" y="387.8" width="5.2" height="5.2" fill="#000"/><rect x="1164.0" y="376.3" width="5.2" height="5.2" fill="#000"/>
<polyline points="1013.1,566.5 1038.7,561.4 1064.3,538.0 1089.8,453.7 1115.4,418.7 1141.0,393.4 1166.6,382.8 1192.2,376.8 1217.7,377.2 1243.3,375.1 1268.9,374.1" fill="none" stroke="#ff0000" stroke-width="1.0"/>
<circle cx="1013.1" cy="566.5" r="2.9" fill="#ff0000"/><circle cx="1038.7" cy="561.4" r="2.9" fill="#ff0000"/><circle cx="1064.3" cy="538.0" r="2.9" fill="#ff0000"/><circle cx="1089.8" cy="453.7" r="2.9" fill="#ff0000"/><circle cx="1115.4" cy="418.7" r="2.9" fill="#ff0000"/><circle cx="1141.0" cy="393.4" r="2.9" fill="#ff0000"/><circle cx="1166.6" cy="382.8" r="2.9" fill="#ff0000"/><circle cx="1192.2" cy="376.8" r="2.9" fill="#ff0000"/><circle cx="1217.7" cy="377.2" r="2.9" fill="#ff0000"/><circle cx="1243.3" cy="375.1" r="2.9" fill="#ff0000"/><circle cx="1268.9" cy="374.1" r="2.9" fill="#ff0000"/>
<polyline points="1013.1,564.2 1038.7,559.1 1064.3,545.3 1089.8,489.8 1115.4,431.4 1141.0,396.6 1166.6,382.3 1192.2,378.1 1217.7,377.2 1243.3,373.2 1268.9,373.8" fill="none" stroke="#0000ff" stroke-width="1.0"/>
<path d="M1013.1 560.1L1016.6 566.7L1009.6 566.7Z" fill="#0000ff"/><path d="M1038.7 555.0L1042.2 561.6L1035.2 561.6Z" fill="#0000ff"/><path d="M1064.3 541.2L1067.8 547.8L1060.8 547.8Z" fill="#0000ff"/><path d="M1089.8 485.7L1093.3 492.3L1086.3 492.3Z" fill="#0000ff"/><path d="M1115.4 427.3L1118.9 433.9L1111.9 433.9Z" fill="#0000ff"/><path d="M1141.0 392.5L1144.5 399.1L1137.5 399.1Z" fill="#0000ff"/><path d="M1166.6 378.2L1170.1 384.8L1163.1 384.8Z" fill="#0000ff"/><path d="M1192.2 374.0L1195.7 380.6L1188.7 380.6Z" fill="#0000ff"/><path d="M1217.7 373.1L1221.2 379.7L1214.2 379.7Z" fill="#0000ff"/><path d="M1243.3 369.1L1246.8 375.7L1239.8 375.7Z" fill="#0000ff"/><path d="M1268.9 369.7L1272.4 376.3L1265.4 376.3Z" fill="#0000ff"/>
<polyline points="1013.1,579.9 1038.7,579.9 1064.3,577.8 1089.8,569.0 1115.4,543.1 1141.0,494.3 1166.6,447.3 1192.2,409.5 1217.7,392.5 1243.3,377.2 1268.9,373.4" fill="none" stroke="#008080" stroke-width="1.0"/>
<path d="M1013.1 584.0L1016.6 577.4L1009.6 577.4Z" fill="#008080"/><path d="M1038.7 584.0L1042.2 577.4L1035.2 577.4Z" fill="#008080"/><path d="M1064.3 581.9L1067.8 575.3L1060.8 575.3Z" fill="#008080"/><path d="M1089.8 573.1L1093.3 566.5L1086.3 566.5Z" fill="#008080"/><path d="M1115.4 547.2L1118.9 540.6L1111.9 540.6Z" fill="#008080"/><path d="M1141.0 498.4L1144.5 491.8L1137.5 491.8Z" fill="#008080"/><path d="M1166.6 451.4L1170.1 444.8L1163.1 444.8Z" fill="#008080"/><path d="M1192.2 413.6L1195.7 407.0L1188.7 407.0Z" fill="#008080"/><path d="M1217.7 396.6L1221.2 390.0L1214.2 390.0Z" fill="#008080"/><path d="M1243.3 381.3L1246.8 374.7L1239.8 374.7Z" fill="#008080"/><path d="M1268.9 377.5L1272.4 370.9L1265.4 370.9Z" fill="#008080"/>
<polyline points="1013.1,583.5 1038.7,582.9 1064.3,583.5 1089.8,586.2 1115.4,579.9 1141.0,576.1 1166.6,563.3 1192.2,538.7 1217.7,480.7 1243.3,415.7 1268.9,385.3" fill="none" stroke="#ff00ff" stroke-width="1.0"/>
<path d="M1009.2 583.5L1015.5 579.9L1015.5 587.1Z" fill="#ff00ff"/><path d="M1034.8 582.9L1041.1 579.3L1041.1 586.5Z" fill="#ff00ff"/><path d="M1060.4 583.5L1066.7 579.9L1066.7 587.1Z" fill="#ff00ff"/><path d="M1085.9 586.2L1092.2 582.6L1092.2 589.8Z" fill="#ff00ff"/><path d="M1111.5 579.9L1117.8 576.3L1117.8 583.5Z" fill="#ff00ff"/><path d="M1137.1 576.1L1143.4 572.5L1143.4 579.7Z" fill="#ff00ff"/><path d="M1162.7 563.3L1169.0 559.7L1169.0 566.9Z" fill="#ff00ff"/><path d="M1188.3 538.7L1194.6 535.1L1194.6 542.3Z" fill="#ff00ff"/><path d="M1213.8 480.7L1220.1 477.1L1220.1 484.3Z" fill="#ff00ff"/><path d="M1239.4 415.7L1245.7 412.1L1245.7 419.3Z" fill="#ff00ff"/><path d="M1265.0 385.3L1271.3 381.7L1271.3 388.9Z" fill="#ff00ff"/>
<path d="M1203.1 536.7H1227.2" stroke="#000" stroke-width="1.0"/><rect x="1212.7" y="534.1" width="5.2" height="5.2" fill="#000"/>
<text x="1229.9" y="540.7" font-size="12" textLength="67.4" lengthAdjust="spacingAndGlyphs">5:1 CoAlO-200</text>
<path d="M1203.1 551.7H1227.2" stroke="#ff0000" stroke-width="1.0"/><circle cx="1215.3" cy="551.7" r="2.9" fill="#ff0000"/>
<text x="1229.9" y="555.7" font-size="12" textLength="67.4" lengthAdjust="spacingAndGlyphs">5:1 CoAlO-300</text>
<path d="M1203.1 566.5H1227.2" stroke="#0000ff" stroke-width="1.0"/><path d="M1215.3 562.4L1218.8 569.0L1211.8 569.0Z" fill="#0000ff"/>
<text x="1229.9" y="570.5" font-size="12" textLength="67.4" lengthAdjust="spacingAndGlyphs">5:1 CoAlO-400</text>
<path d="M1203.1 581.5H1227.2" stroke="#008080" stroke-width="1.0"/><path d="M1215.3 585.6L1218.8 579.0L1211.8 579.0Z" fill="#008080"/>
<text x="1229.9" y="585.5" font-size="12" textLength="67.4" lengthAdjust="spacingAndGlyphs">5:1 CoAlO-600</text>
<path d="M1203.1 596.6H1227.2" stroke="#ff00ff" stroke-width="1.0"/><path d="M1211.4 596.6L1217.7 593.0L1217.7 600.2Z" fill="#ff00ff"/>
<text x="1229.9" y="600.6" font-size="12" textLength="67.4" lengthAdjust="spacingAndGlyphs">5:1 CoAlO-800</text>
</g>
</svg></body></html>
